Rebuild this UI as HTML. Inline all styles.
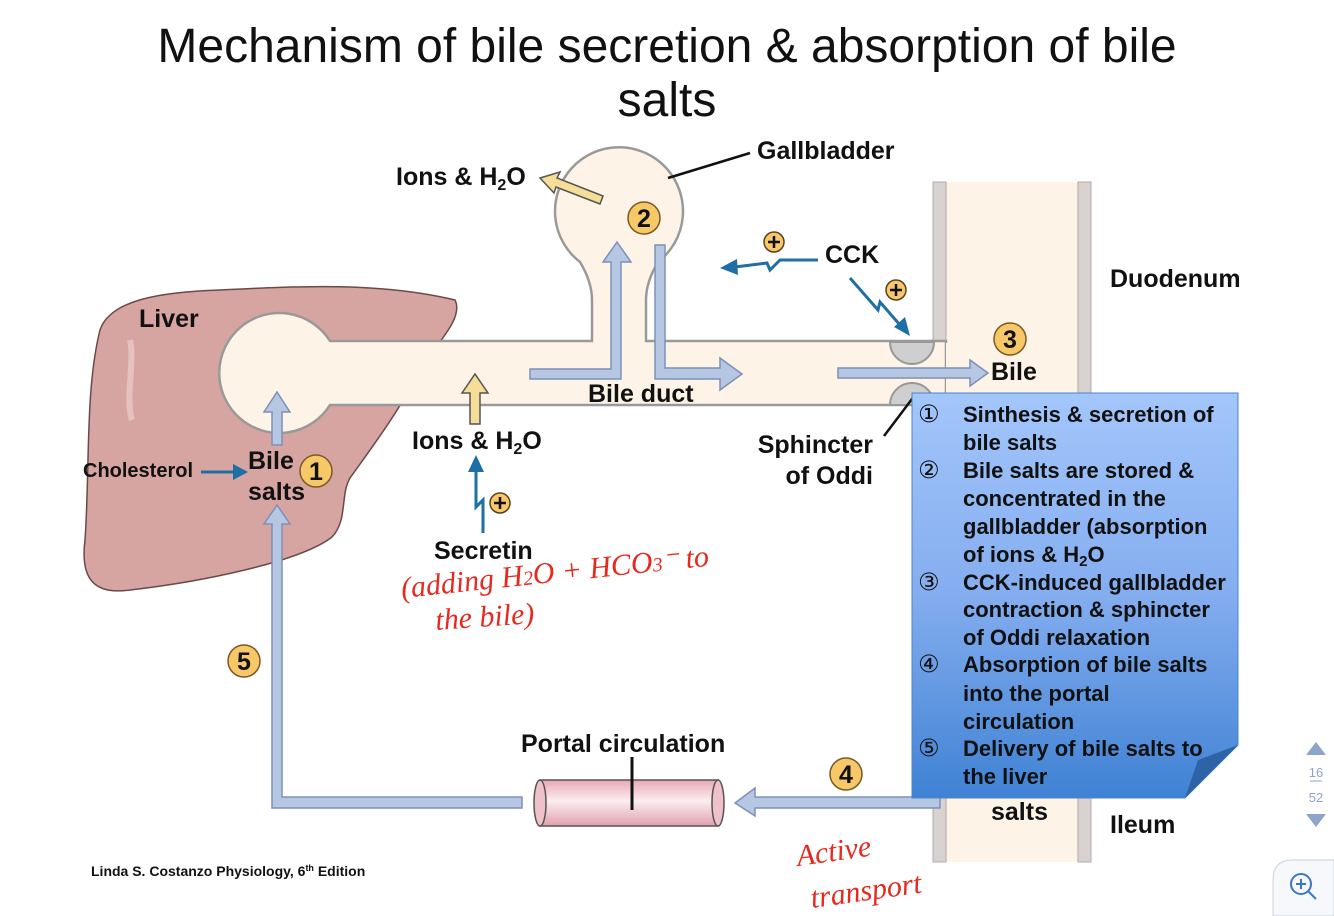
<!DOCTYPE html>
<html><head><meta charset="utf-8"><style>
html,body{margin:0;padding:0;background:#fff;}
svg{display:block;}
text{font-family:"Liberation Sans","DejaVu Sans",sans-serif;}
.l{font-size:25px;font-weight:bold;fill:#111;}
.b{font-size:22px;font-weight:bold;fill:#111;}
.r{font-family:"Liberation Serif",serif;font-style:italic;fill:#e8281e;font-size:30px;}
</style></head><body>
<svg width="1334" height="916" viewBox="0 0 1334 916" xmlns="http://www.w3.org/2000/svg">
<defs>
<linearGradient id="bx" x1="0" y1="0" x2="0" y2="1"><stop offset="0" stop-color="#a3c6fb"/><stop offset="0.5" stop-color="#84adef"/><stop offset="1" stop-color="#3f82d4"/></linearGradient>
<linearGradient id="pv" x1="0" y1="0" x2="0" y2="1"><stop offset="0" stop-color="#e8a8b4"/><stop offset="0.45" stop-color="#fbeef0"/><stop offset="1" stop-color="#e0a0ac"/></linearGradient>
</defs>
<text x="667" y="62" text-anchor="middle" font-size="48" fill="#111">Mechanism of bile secretion &amp; absorption of bile</text>
<text x="667" y="116" text-anchor="middle" font-size="48" fill="#111">salts</text>

<!-- liver -->
<path d="M100,330 C110,300 160,292 220,290 C300,286 380,282 455,300 C465,320 430,350 420,370 C400,410 370,450 350,478 C340,495 348,520 332,537 C300,562 200,582 130,590 C95,595 80,580 85,540 C90,470 85,390 100,330 Z" fill="#d7a5a1" stroke="#6a4a48" stroke-width="1.5"/>
<path d="M130,340 C135,360 125,400 132,420" stroke="#e6c2bf" stroke-width="6" fill="none"/>

<!-- duodenum -->
<rect x="946" y="182" width="132" height="680" fill="#fdf4e7"/>
<rect x="933" y="182" width="13" height="160" fill="#d8d2d0" stroke="#b0aaa8"/>
<rect x="933" y="780" width="13" height="82" fill="#d8d2d0" stroke="#b0aaa8"/>
<rect x="1078" y="182" width="13" height="680" fill="#d8d2d0" stroke="#b0aaa8"/>

<!-- duct + canaliculus + gallbladder -->
<path d="M330,341 L592,341 L592,300 Q592,282 580,262 A64,64 0 1 1 658,262 Q646,282 646,300 L646,341 L946,341 L946,405 L330,405 A60,60 0 1 1 330,341 Z" fill="#fdf4e7" stroke="#999" stroke-width="2.5"/>
<path d="M890,342 A22,22 0 0 0 934,342 Z" fill="#cfcfcf" stroke="#999" stroke-width="2"/>
<path d="M890,405 A22,22 0 0 1 934,405 Z" fill="#cfcfcf" stroke="#999" stroke-width="2"/>
<rect x="946" y="343" width="6" height="61" fill="#fdf4e7"/>

<!-- light blue arrows -->
<g fill="#b6c7e4" stroke="#7d90b8" stroke-width="1.5">
<path d="M530,369 L611,369 L611,262 L603,262 L617,242 L631,262 L621,262 L621,379 L530,379 Z"/>
<path d="M655,245 L665,245 L665,368 L720,368 L720,358 L742,374 L720,390 L720,379 L655,379 Z"/>
<path d="M838,368 L970,368 L970,360 L988,373 L970,386 L970,378 L838,378 Z"/>
<path d="M272,445 L272,412 L264,412 L277,392 L290,412 L282,412 L282,445 Z"/>
<path d="M522,797 L522,808 L272,808 L272,524 L264,524 L277,505 L290,524 L282,524 L282,797 Z"/>
<path d="M940,797 L755,797 L755,788 L735,803 L755,816 L755,808 L940,808 Z"/>
</g>

<!-- portal vessel -->
<rect x="540" y="780" width="178" height="46" fill="url(#pv)" stroke="#555" stroke-width="1.5"/>
<ellipse cx="540" cy="803" rx="6" ry="23" fill="#efc2ca" stroke="#555" stroke-width="1.5"/>
<ellipse cx="718" cy="803" rx="6" ry="23" fill="#efc2ca" stroke="#555" stroke-width="1.5"/>
<line x1="632" y1="757" x2="632" y2="810" stroke="#111" stroke-width="3"/>

<!-- yellow arrows -->
<g fill="#f6dd98" stroke="#555" stroke-width="1.5">
<path d="M603,196 L557,178 L560,172 L540,178 L554,193 L556,187 L600,204 Z"/>
<path d="M470,424 L470,393 L462,393 L475,374 L488,393 L480,393 L480,424 Z"/>
</g>

<!-- dark blue lightning arrows -->
<g stroke="#1d6fa5" stroke-width="3" fill="none">
<path d="M818,260 L780,260 L770,270 L767,263 L735,267"/>
<path d="M850,278 L878,310 L880,302 L900,325"/>
<path d="M483,533 L483,500 L476,507 L476,470"/>
<path d="M201,472 L235,472"/>
</g>
<g fill="#1d6fa5">
<path d="M720,268 L737,259 L738,275 Z"/>
<path d="M910,336 L894,327 L905,317 Z"/>
<path d="M476,455 L468,472 L484,472 Z"/>
<path d="M248,472 L233,464 L233,480 Z"/>
</g>
<line x1="668" y1="178" x2="750" y2="153" stroke="#111" stroke-width="2.5"/>
<line x1="884" y1="436" x2="915" y2="395" stroke="#111" stroke-width="2.5"/>

<!-- plus circles -->
<g fill="#f6c867" stroke="#5a4020" stroke-width="1.5">
<circle cx="774" cy="242" r="10"/><circle cx="896" cy="290" r="10"/><circle cx="500" cy="503" r="10"/>
</g>
<g stroke="#111" stroke-width="2.5"><path d="M768,242h12M774,236v12M890,290h12M896,284v12M494,503h12M500,497v12"/></g>

<!-- number circles -->
<g fill="#f6c867" stroke="#7a5a25" stroke-width="1.5">
<circle cx="316" cy="471" r="16"/><circle cx="644" cy="218" r="16"/><circle cx="1010" cy="339" r="16"/><circle cx="846" cy="774" r="16"/><circle cx="244" cy="661" r="16"/>
</g>
<g class="l" text-anchor="middle">
<text x="316" y="480">1</text><text x="644" y="227">2</text><text x="1010" y="348">3</text><text x="846" y="783">4</text><text x="244" y="670">5</text>
</g>

<!-- labels -->
<text class="l" x="757" y="159">Gallbladder</text>
<text class="l" x="396" y="185">Ions &amp; H<tspan font-size="16" dy="5">2</tspan><tspan dy="-5">O</tspan></text>
<text class="l" x="825" y="263">CCK</text>
<text class="l" x="1110" y="287">Duodenum</text>
<text class="l" x="139" y="327">Liver</text>
<text class="l" x="991" y="380">Bile</text>
<text class="l" x="588" y="402">Bile duct</text>
<text class="l" x="412" y="449">Ions &amp; H<tspan font-size="16" dy="5">2</tspan><tspan dy="-5">O</tspan></text>
<text class="l" x="873" y="453" text-anchor="end">Sphincter</text>
<text class="l" x="873" y="484" text-anchor="end">of Oddi</text>
<text x="83" y="477" font-size="20" font-weight="bold" fill="#111">Cholesterol</text>
<text class="l" x="248" y="469">Bile</text>
<text class="l" x="248" y="500">salts</text>
<text class="l" x="434" y="559">Secretin</text>
<text class="l" x="521" y="752">Portal circulation</text>
<text class="l" x="991" y="820">salts</text>
<text class="l" x="1110" y="833">Ileum</text>
<text x="91" y="876" font-size="14" font-weight="bold" fill="#111">Linda S. Costanzo Physiology, 6<tspan font-size="9" dy="-5">th</tspan><tspan dy="5"> Edition</tspan></text>

<!-- handwriting -->
<text class="r" x="402" y="598" transform="rotate(-6 402 598)">(adding H<tspan font-size="20">2</tspan>O + HCO<tspan font-size="20">3</tspan>⁻ to</text>
<text class="r" x="436" y="630" transform="rotate(-4 436 630)">the bile)</text>
<text class="r" x="798" y="866" transform="rotate(-8 798 866)">Active</text>
<text class="r" x="812" y="908" transform="rotate(-8 812 908)">transport</text>

<!-- blue box -->
<path d="M912,393 L1238,393 L1238,745 L1185,798 L912,798 Z" fill="url(#bx)" stroke="#4d84c8" stroke-width="1"/>
<path d="M1238,745 L1185,798 L1198,760 Z" fill="#2e63a8"/>
<g class="b">
<text x="918" y="422" font-size="24" font-weight="normal">①</text><text x="963" y="422">Sinthesis &amp; secretion of</text>
<text x="963" y="450">bile salts</text>
<text x="918" y="478" font-size="24" font-weight="normal">②</text><text x="963" y="478">Bile salts are stored &amp;</text>
<text x="963" y="506">concentrated in the</text>
<text x="963" y="534">gallbladder (absorption</text>
<text x="963" y="562">of ions &amp; H<tspan font-size="15" dy="4">2</tspan><tspan dy="-4">O</tspan></text>
<text x="918" y="590" font-size="24" font-weight="normal">③</text><text x="963" y="590">CCK-induced gallbladder</text>
<text x="963" y="617">contraction &amp; sphincter</text>
<text x="963" y="645">of Oddi relaxation</text>
<text x="918" y="672" font-size="24" font-weight="normal">④</text><text x="963" y="672">Absorption of bile salts</text>
<text x="963" y="701">into the portal</text>
<text x="963" y="729">circulation</text>
<text x="918" y="756" font-size="24" font-weight="normal">⑤</text><text x="963" y="756">Delivery of bile salts to</text>
<text x="963" y="784">the liver</text>
</g>

<!-- UI -->
<path d="M1306,755 L1326,755 L1316,742 Z" fill="#8ea4c8"/>
<text x="1316" y="777" text-anchor="middle" font-size="13" fill="#8ea4c8">16</text>
<line x1="1310" y1="781" x2="1322" y2="781" stroke="#8ea4c8"/>
<text x="1316" y="802" text-anchor="middle" font-size="13" fill="#8ea4c8">52</text>
<path d="M1306,814 L1326,814 L1316,827 Z" fill="#8ea4c8"/>
<path d="M1334,860 L1292,860 Q1273,860 1273,880 L1273,916 L1334,916 Z" fill="#f6f8fb" stroke="#c9d2de"/>
<circle cx="1301" cy="884" r="10" fill="none" stroke="#3a78c8" stroke-width="2"/>
<path d="M1308,891 L1316,899 M1296,884h10M1301,879v10" stroke="#3a78c8" stroke-width="2"/>
</svg>
</body></html>
